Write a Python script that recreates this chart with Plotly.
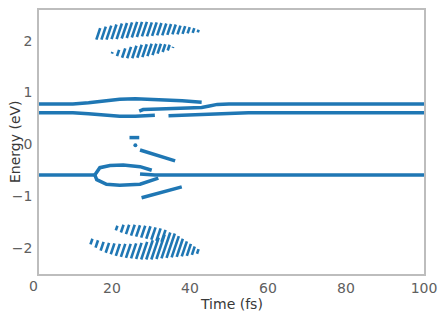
import plotly.graph_objects as go

# ---------------- data ----------------
# continuous energy curves (time fs, energy eV)
upper_a_t = [0, 10, 14, 18, 22, 26, 30, 34, 38, 43]
upper_a_e = [0.78, 0.78, 0.80, 0.84, 0.87, 0.88, 0.87, 0.86, 0.84, 0.81]
lower_b_t = [0, 10, 14, 18, 22, 26, 29, 31]
lower_b_e = [0.61, 0.61, 0.59, 0.56, 0.54, 0.54, 0.55, 0.56]
upper_c_t = [27, 28, 32, 36, 40, 43, 45, 47, 50, 100]
upper_c_e = [0.64, 0.67, 0.68, 0.69, 0.70, 0.71, 0.74, 0.77, 0.78, 0.78]
lower_d_t = [34.5, 38, 42, 46, 50, 55, 100]
lower_d_e = [0.55, 0.56, 0.57, 0.59, 0.60, 0.61, 0.61]

dash_t = [24.5, 27.0]
dash_e = [0.13, 0.13]
dot_t = [26.0]
dot_e = [-0.02]
diag_up_t = [27.2, 36.2]
diag_up_e = [-0.11, -0.32]
diag_lo_t = [27.6, 37.9]
diag_lo_e = [-1.03, -0.82]

main_left_t = [0, 15.6]
main_left_e = [-0.59, -0.59]
loop_up_t = [15.6, 16.9, 19.5, 22.9, 27.2, 30.2]
loop_up_e = [-0.59, -0.45, -0.41, -0.40, -0.43, -0.50]
loop_lo_t = [15.6, 16.1, 18.6, 22.0, 27.2, 31.9]
loop_lo_e = [-0.59, -0.68, -0.77, -0.79, -0.77, -0.65]
main_right_t = [27.2, 31, 100]
main_right_e = [-0.57, -0.59, -0.59]

# striped clusters: stripe time, lower energy, upper energy
top_hi_t = [16.0, 17.3, 18.6, 19.9, 21.2, 22.5, 23.8, 25.1, 26.4, 27.7, 29.0,
            30.3, 31.6, 32.9, 34.2, 35.5, 36.8, 38.1, 39.4, 40.7, 42.0]
top_hi_lo = [2.02, 2.02, 2.02, 2.03, 2.03, 2.04, 2.05, 2.06, 2.07, 2.08, 2.08,
             2.09, 2.10, 2.10, 2.11, 2.12, 2.12, 2.13, 2.14, 2.15, 2.16]
top_hi_hi = [2.24, 2.27, 2.29, 2.31, 2.33, 2.34, 2.35, 2.36, 2.36, 2.36, 2.35,
             2.35, 2.34, 2.33, 2.32, 2.31, 2.29, 2.28, 2.26, 2.24, 2.21]

top_lo_t = [20.0, 21.3, 22.6, 23.9, 25.2, 26.5, 27.8, 29.1, 30.4, 31.7, 33.0, 34.3, 35.6]
top_lo_lo = [1.75, 1.70, 1.67, 1.66, 1.66, 1.67, 1.68, 1.70, 1.72, 1.75, 1.78, 1.81, 1.86]
top_lo_hi = [1.78, 1.82, 1.85, 1.88, 1.90, 1.92, 1.93, 1.94, 1.94, 1.94, 1.93, 1.92, 1.88]

bot_hi_t = [21.0, 22.3, 23.6, 24.9, 26.2, 27.5, 28.8, 30.1, 31.4, 32.7]
bot_hi_lo = [-1.66, -1.70, -1.73, -1.76, -1.78, -1.80, -1.82, -1.84, -1.86, -1.88]
bot_hi_hi = [-1.57, -1.55, -1.55, -1.55, -1.56, -1.57, -1.58, -1.60, -1.62, -1.65]

bot_lo_t = [14.5, 15.8, 17.1, 18.4, 19.7, 21.0, 22.3, 23.6, 24.9, 26.2, 27.5,
            28.8, 30.1, 31.4, 32.7, 34.0, 35.3, 36.6, 37.9, 39.2, 40.5, 41.8]
bot_lo_lo = [-1.93, -1.99, -2.05, -2.09, -2.12, -2.15, -2.17, -2.19, -2.20, -2.21, -2.22,
             -2.22, -2.22, -2.21, -2.20, -2.19, -2.18, -2.17, -2.16, -2.15, -2.13, -2.11]
bot_lo_hi = [-1.82, -1.85, -1.88, -1.90, -1.91, -1.92, -1.92, -1.92, -1.91, -1.90, -1.88,
             -1.85, -1.80, -1.74, -1.70, -1.72, -1.77, -1.82, -1.87, -1.92, -1.97, -2.02]

x_ticks = [20, 40, 60, 80, 100]
y_ticks = [-2, -1, 0, 1, 2]

# ---------------- styling ----------------
BLUE = "#1f77b4"
LINE_W = 3.5
STRIPE_W = 2.6
TILT = 4.5  # horizontal lean of a stripe, fs per eV of stripe height

fig = go.Figure()


def add_line(t, e, w=LINE_W):
    fig.add_trace(go.Scatter(x=t, y=e, mode="lines",
                             line=dict(color=BLUE, width=w),
                             hoverinfo="skip", showlegend=False))


for t, e in [(upper_a_t, upper_a_e), (lower_b_t, lower_b_e),
             (upper_c_t, upper_c_e), (lower_d_t, lower_d_e),
             (dash_t, dash_e), (diag_up_t, diag_up_e), (diag_lo_t, diag_lo_e),
             (main_left_t, main_left_e), (loop_up_t, loop_up_e),
             (loop_lo_t, loop_lo_e), (main_right_t, main_right_e)]:
    add_line(t, e)

fig.add_trace(go.Scatter(x=dot_t, y=dot_e, mode="markers",
                         marker=dict(color=BLUE, size=4),
                         hoverinfo="skip", showlegend=False))


def add_stripes(ts, los, his):
    xs, ys = [], []
    for t, lo, hi in zip(ts, los, his):
        xs += [t, t + TILT * (hi - lo), None]
        ys += [lo, hi, None]
    fig.add_trace(go.Scatter(x=xs, y=ys, mode="lines",
                             line=dict(color=BLUE, width=STRIPE_W),
                             hoverinfo="skip", showlegend=False))


add_stripes(top_hi_t, top_hi_lo, top_hi_hi)
add_stripes(top_lo_t, top_lo_lo, top_lo_hi)
add_stripes(bot_hi_t, bot_hi_lo, bot_hi_hi)
add_stripes(bot_lo_t, bot_lo_lo, bot_lo_hi)

FONT = "DejaVu Sans"
TICK_COL = "#606060"
TITLE_COL = "#383838"
X_MIN = 1.3
X_MAX = 100

axis_common = dict(showline=True, mirror=True, linecolor="#bdbdbd", linewidth=1.5,
                   showgrid=False, zeroline=False, ticks="", automargin=False,
                   tickfont=dict(family=FONT, size=14, color=TICK_COL))

fig.update_layout(
    width=444, height=319,
    margin=dict(l=39, r=20, t=10, b=45),
    paper_bgcolor="white", plot_bgcolor="white",
    showlegend=False,
    xaxis=dict(range=[X_MIN, X_MAX], tickvals=x_ticks, **axis_common),
    yaxis=dict(range=[-2.5, 2.59], tickvals=y_ticks, ticklabelstandoff=2, **axis_common),
)

# axis titles
fig.add_annotation(text="Time (fs)", xref="paper", yref="paper", x=0.5, y=0,
                   xanchor="center", yanchor="top", yshift=-20, showarrow=False,
                   font=dict(family=FONT, size=14, color=TITLE_COL))
fig.add_annotation(text="Energy (eV)", xref="paper", yref="paper", x=0, y=0.5,
                   xanchor="center", yanchor="middle", xshift=-24, textangle=-90,
                   showarrow=False, font=dict(family=FONT, size=14, color=TITLE_COL))

# the "0" label of the time axis sits just left of the frame
fig.add_annotation(text="0", xref="paper", yref="paper",
                   x=(0 - X_MIN) / (X_MAX - X_MIN), y=0, xanchor="center", yanchor="top",
                   yshift=-2, showarrow=False,
                   font=dict(family=FONT, size=14, color=TICK_COL))

fig.write_html("out.html", config={"displayModeBar": False},
               post_script="document.body.style.margin='0';document.body.style.overflow='hidden';")
